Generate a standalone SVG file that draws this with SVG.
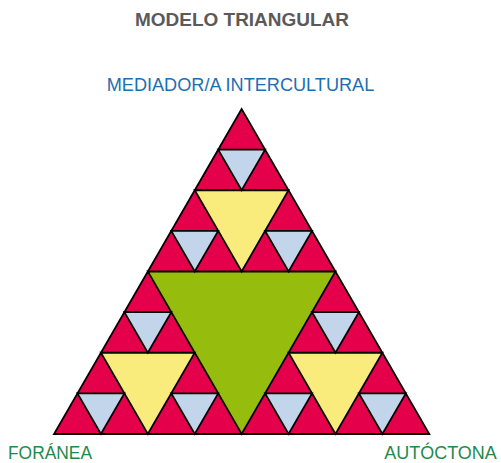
<svg xmlns="http://www.w3.org/2000/svg" width="501" height="463" viewBox="0 0 501 463">
<style>
.t{stroke:#000;stroke-width:1.8;stroke-linejoin:miter}
.red{fill:#E4004B}
.green{fill:#96BD0D}
.yellow{fill:#F9EC7D}
.blue{fill:#C3D5EB}
.title{font-family:"Liberation Sans",Arial,sans-serif;font-weight:bold;font-size:18px;fill:#5A5A5A}
.top{font-family:"Liberation Sans",Arial,sans-serif;font-size:18px;fill:#1A6FB5}
.corner{font-family:"Liberation Sans",Arial,sans-serif;font-size:18.5px;fill:#1F8A4C}
</style>
<rect width="501" height="463" fill="#fff"/>
<text class="title" x="135" y="26" textLength="214" lengthAdjust="spacingAndGlyphs">MODELO TRIANGULAR</text>
<text class="top" x="106.7" y="91" textLength="267.6" lengthAdjust="spacingAndGlyphs">MEDIADOR/A INTERCULTURAL</text>
<g id="outer"><polygon class="t red" points="241.65,109 54,434 429.3,434"/></g>
<g id="green"><polygon class="t green" points="147.825,271.5 335.475,271.5 241.65,434"/></g>
<g id="yellows">
<polygon class="t yellow" points="194.738,190.25 288.563,190.25 241.65,271.5"/>
<polygon class="t yellow" points="100.913,352.75 194.738,352.75 147.825,434"/>
<polygon class="t yellow" points="288.563,352.75 382.388,352.75 335.475,434"/>
</g>
<g id="blues">
<polygon class="t blue" points="218.194,149.625 265.106,149.625 241.65,190.25"/>
<polygon class="t blue" points="171.281,230.875 218.194,230.875 194.738,271.5"/>
<polygon class="t blue" points="265.106,230.875 312.019,230.875 288.563,271.5"/>
<polygon class="t blue" points="124.369,312.125 171.281,312.125 147.825,352.75"/>
<polygon class="t blue" points="312.019,312.125 358.931,312.125 335.475,352.75"/>
<polygon class="t blue" points="77.456,393.375 124.369,393.375 100.913,434"/>
<polygon class="t blue" points="171.281,393.375 218.194,393.375 194.738,434"/>
<polygon class="t blue" points="265.106,393.375 312.019,393.375 288.563,434"/>
<polygon class="t blue" points="358.931,393.375 405.844,393.375 382.388,434"/>
</g>
<text class="corner" x="8" y="459" textLength="84" lengthAdjust="spacingAndGlyphs">FORÁNEA</text>
<text class="corner" x="384.3" y="459" textLength="112.4" lengthAdjust="spacingAndGlyphs">AUTÓCTONA</text>
</svg>
